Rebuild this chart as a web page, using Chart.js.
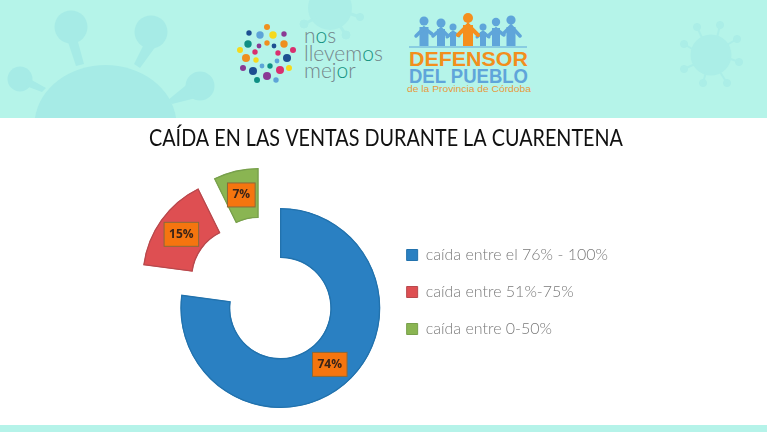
<!DOCTYPE html>
<html>
<head>
<meta charset="utf-8">
<script src="https://cdn.jsdelivr.net/npm/chart.js@4"></script>
<style>
  html, body { margin: 0; padding: 0; background: #fff; }
  .page { position: relative; width: 767px; height: 432px; overflow: hidden; background: #fff; }
  .header { position: absolute; left: 0; top: 0; }
  .strip { position: absolute; left: 0; top: 425px; width: 767px; height: 7px; background: #b5f3e9; }
  canvas { position: absolute; left: 0; top: 0; }
</style>
</head>
<body>
<div class="page">
  <svg class="header" width="767" height="118" viewBox="0 0 767 118">
    <rect width="767" height="118" fill="#b5f4e9"/>
    <!-- big virus left -->
    <g fill="#a6ebe6">
      <path d="M35 118 A71 60 0 0 1 176 118 Z"/>
      <circle cx="71" cy="27" r="16.5"/><circle cx="151" cy="32" r="16.5"/>
      <circle cx="20" cy="79" r="12.5"/><circle cx="200" cy="86" r="14.5"/>
      <path d="M68 42 L78 42 L84 64 L76 66 Z"/><path d="M144 44 L156 46 L140 68 L134 64 Z"/>
      <path d="M28 78 L46 88 L42 92 L26 86 Z"/><path d="M190 82 L196 98 L172 104 L168 100 Z"/>
    </g>
    <!-- small virus right -->
    <g fill="#abeee7" stroke="#abeee7">
      <circle cx="711" cy="55" r="20.5" stroke="none"/>
      <circle cx="697" cy="27" r="3.5"/><circle cx="720" cy="25" r="3.5"/><circle cx="737" cy="39" r="3.5"/>
      <circle cx="739" cy="62" r="3.5"/><circle cx="727" cy="83" r="3.5"/><circle cx="703" cy="83" r="3.5"/>
      <circle cx="684" cy="69" r="3.5"/><circle cx="684" cy="44" r="3.5"/>
      <path d="M697 27 L703 40 M720 25 L717 38 M737 39 L725 46 M739 62 L728 58 M727 83 L720 72 M703 83 L706 72 M684 69 L695 64 M684 44 L694 50" stroke-width="2"/>
    </g>
    <!-- virus behind the logo -->
    <g fill="#abeee7" stroke="#abeee7">
      <circle cx="330" cy="8" r="22" stroke="none"/>
      <circle cx="304" cy="24" r="4"/><circle cx="346" cy="35" r="4"/><circle cx="360" cy="17" r="3.5"/>
      <path d="M304 24 L316 18 M346 35 L340 26 M360 17 L348 13" stroke-width="3"/>
    </g>
    <!-- nos llevemos mejor dots -->
    <g>
      <circle cx="267" cy="27" r="3" fill="#ef8f1f"/><circle cx="249" cy="33" r="2.7" fill="#1d4f91"/>
      <circle cx="260" cy="35" r="3.7" fill="#5da4d8"/><circle cx="273" cy="35" r="3.7" fill="#f6d91c"/>
      <circle cx="284" cy="34" r="2.7" fill="#8a3a94"/><circle cx="248" cy="44" r="3.7" fill="#0f8f84"/>
      <circle cx="259" cy="46" r="2.4" fill="#8a3a94"/><circle cx="267" cy="43" r="2.7" fill="#ef8f1f"/>
      <circle cx="274" cy="46" r="2.4" fill="#1d4f91"/><circle cx="284" cy="44" r="3.7" fill="#ef8f1f"/>
      <circle cx="240" cy="50" r="3" fill="#f6d91c"/><circle cx="255" cy="52" r="2.7" fill="#d9306f"/>
      <circle cx="278" cy="53" r="2.7" fill="#d9306f"/><circle cx="293" cy="50" r="3" fill="#d9306f"/>
      <circle cx="246" cy="58" r="4" fill="#ef8f1f"/><circle cx="256" cy="60" r="2.7" fill="#f6d91c"/>
      <circle cx="277" cy="61" r="2.4" fill="#5da4d8"/><circle cx="287" cy="58" r="4" fill="#1d4f91"/>
      <circle cx="243" cy="68" r="3" fill="#8a3a94"/><circle cx="253" cy="71" r="4" fill="#1d4f91"/>
      <circle cx="262" cy="66" r="2.4" fill="#5da4d8"/><circle cx="270" cy="66" r="2.7" fill="#0f8f84"/>
      <circle cx="280" cy="70" r="4" fill="#d9306f"/><circle cx="289" cy="68" r="3" fill="#f6d91c"/>
      <circle cx="267" cy="76" r="4" fill="#8a3a94"/><circle cx="257" cy="80" r="3" fill="#0f8f84"/>
      <circle cx="276" cy="80" r="2.7" fill="#5da4d8"/>
    </g>
    <g font-family="Lato" font-weight="300" font-size="21" fill="#74858a">
      <text x="304" y="43">n<tspan fill="#13927f">o</tspan>s</text>
      <text x="304" y="61">llevem<tspan fill="#13927f">o</tspan>s</text>
      <text x="304" y="78">mej<tspan fill="#13927f">o</tspan>r</text>
    </g>
    <!-- defensor del pueblo -->
    <g stroke="#5fa5da" stroke-linecap="round" fill="#5fa5da">
      <line x1="409" y1="47" x2="527" y2="47" stroke-width="1.2" stroke-linecap="butt"/>
      <g>
        <circle cx="424" cy="21" r="4.5" stroke="none"/><path d="M424 27 V46" stroke-width="9" stroke-linecap="butt"/><path d="M416 36 L424 28 L432 34" stroke-width="3.5" fill="none"/>
        <circle cx="441" cy="23" r="4.5" stroke="none"/><path d="M441 29 V46" stroke-width="8" stroke-linecap="butt"/><path d="M433 36 L441 29 L448 36" stroke-width="3.5" fill="none"/>
        <circle cx="453" cy="27" r="3.5" stroke="none"/><path d="M453 32 V46" stroke-width="6" stroke-linecap="butt"/><path d="M447 37 L453 32 L459 36" stroke-width="3" fill="none"/>
        <circle cx="483" cy="27" r="3.5" stroke="none"/><path d="M483 32 V46" stroke-width="6" stroke-linecap="butt"/><path d="M477 37 L483 32 L489 37" stroke-width="3" fill="none"/>
        <circle cx="496" cy="22" r="4.2" stroke="none"/><path d="M496 28 V46" stroke-width="8" stroke-linecap="butt"/><path d="M488 36 L496 29 L504 35" stroke-width="3.5" fill="none"/>
        <circle cx="511" cy="20" r="4.6" stroke="none"/><path d="M511 27 V46" stroke-width="9" stroke-linecap="butt"/><path d="M503 34 L511 26 L520 36" stroke-width="3.5" fill="none"/>
      </g>
      <g stroke="#f58f1e" fill="#f58f1e">
        <circle cx="468" cy="18" r="5" stroke="none"/><path d="M468 25 V46" stroke-width="10" stroke-linecap="butt"/><path d="M458 35 L468 25 L478 35" stroke-width="4" fill="none"/>
      </g>
    </g>
    <text x="409" y="66" font-family="Liberation Sans" font-weight="700" font-size="21" textLength="119" lengthAdjust="spacingAndGlyphs" fill="#f28f1d">DEFENSOR</text>
    <text x="409" y="83" font-family="Liberation Sans" font-weight="700" font-size="20" textLength="119" lengthAdjust="spacingAndGlyphs" fill="#5fa5da">DEL PUEBLO</text>
    <text x="407" y="92" font-family="Liberation Sans" font-size="8.5" textLength="124" lengthAdjust="spacingAndGlyphs" fill="#e89a3c">de la Provincia de Córdoba</text>
  </svg>
  <div class="strip"></div>
  <canvas id="ventasChart" width="767" height="432"></canvas>
</div>
<script>
const chartTitle = 'CAÍDA EN LAS VENTAS DURANTE LA CUARENTENA';
const categories = ['caída entre el 76% - 100%', 'caída entre 51%-75%', 'caída entre 0-50%'];
const ventas = [74, 15, 7];
const colores = ['#2a80c2', '#de4f52', '#8ab552'];
const bordes = ['#2272ad', '#b8494d', '#78a04c'];

// the two small slices sit pulled away from the ring
const sliceShift = [[0, 0], [-38, -30], [-22, -40]];

const explodePlugin = {
  id: 'explode',
  afterLayout(chart) {
    // the title box would otherwise be squeezed between the paddings
    chart.titleBlock.left = 149;
    chart.titleBlock.right = 623;
  },
  afterDatasetsUpdate(chart) {
    chart.getDatasetMeta(0).data.forEach((arc, i) => {
      arc.x += sliceShift[i][0];
      arc.y += sliceShift[i][1];
    });
  }
};

// orange value tags on the slices
const tagPlugin = {
  id: 'tags',
  afterDatasetsDraw(chart) {
    const ctx = chart.ctx;
    ctx.save();
    ctx.font = '700 12px "Open Sans"';
    ctx.textAlign = 'center';
    ctx.textBaseline = 'middle';
    chart.getDatasetMeta(0).data.forEach((arc, i) => {
      const p = arc.getCenterPoint();
      const label = ventas[i] + '%';
      const w = ctx.measureText(label).width + 10;
      ctx.fillStyle = '#f5750f';
      ctx.strokeStyle = '#8a6a3a';
      ctx.lineWidth = 1;
      ctx.fillRect(p.x - w / 2, p.y - 12, w, 24);
      ctx.strokeRect(p.x - w / 2, p.y - 12, w, 24);
      ctx.fillStyle = '#3a2418';
      ctx.fillText(label, p.x, p.y);
    });
    ctx.restore();
  }
};

new Chart(document.getElementById('ventasChart'), {
  type: 'doughnut',
  data: {
    labels: categories,
    datasets: [{
      data: ventas,
      backgroundColor: colores,
      borderColor: bordes,
      borderWidth: 1,
      borderAlign: 'inner'
    }]
  },
  options: {
    responsive: false,
    animation: false,
    cutout: '50%',
    layout: { padding: { left: 175, right: 149, top: 0, bottom: 24 } },
    plugins: {
      title: {
        display: true,
        text: chartTitle,
        color: '#111',
        font: { family: 'Lato', size: 23, weight: '400' },
        padding: { top: 125, bottom: 55.4 }
      },
      legend: {
        position: 'right',
        align: 'start',
        fullSize: false,
        maxWidth: 240,
        title: { display: true, text: ' ', padding: 3, font: { size: 10 } },
        labels: {
          boxWidth: 11,
          boxHeight: 11,
          padding: 21,
          color: '#7a7a7a',
          font: { family: 'Lato', size: 16, weight: '300' }
        }
      },
      tooltip: { enabled: false }
    }
  },
  plugins: [explodePlugin, tagPlugin]
});
</script>
</body>
</html>
